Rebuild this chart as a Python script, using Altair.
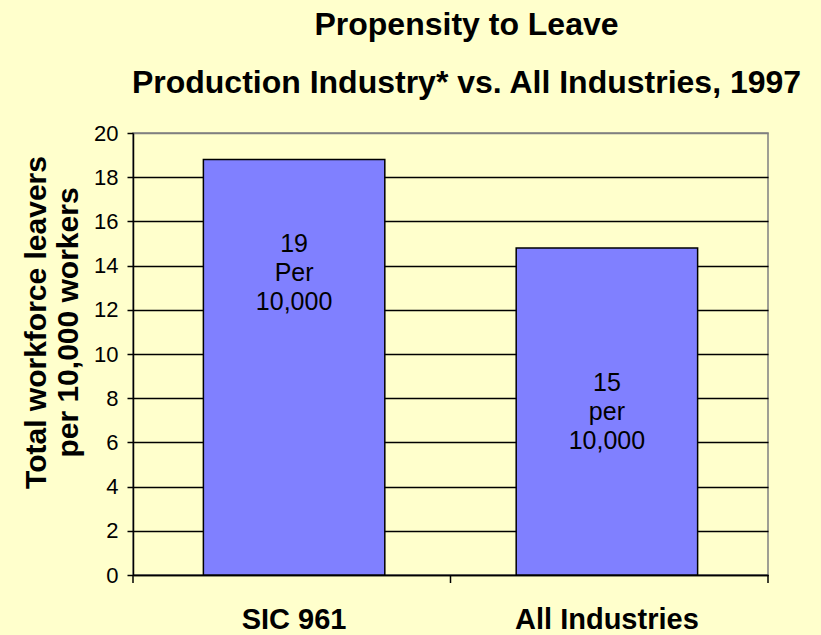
import altair as alt
import pandas as pd

categories = ["SIC 961", "All Industries"]
values = [18.8, 14.8]
bar_labels = [["19", "Per", "10,000"], ["15", "per", "10,000"]]
label_pos = [15.0, 8.7]

df = pd.DataFrame({"cat": categories, "val": values, "lab": bar_labels, "lpos": label_pos})

W, H = 635, 442
BG = "#FFFFCC"
FONT = "Liberation Sans"
YTITLE = ["Total workforce leavers", "per 10,000 workers"]

xscale = alt.Scale(domain=categories, paddingInner=0.42, paddingOuter=0.225)
yscale = alt.Scale(domain=[0, 20])


def xaxis():
    return alt.Axis(title=None, labelAngle=0, ticks=False, domain=True, domainColor="black",
                    domainWidth=1.5, labelFont=FONT, labelFontSize=29, labelLimit=400,
                    labelFontWeight="bold", labelColor="black", labelPadding=30)


def yaxis():
    return alt.Axis(title=YTITLE, values=list(range(0, 21, 2)), grid=True,
                    gridColor=alt.expr("datum.value == 20 ? '#808080' : 'black'"),
                    gridWidth=1.5, domainColor="black", domainWidth=1.5,
                    tickColor="black", tickSize=6, tickWidth=1.5,
                    labelFont=FONT, labelFontSize=22, labelColor="black",
                    labelPadding=9, titleFont=FONT, titleFontSize=30,
                    titleFontWeight="bold", titleColor="black", titleLineHeight=32,
                    titlePadding=10, titleY=189, titleAnchor="middle")


bars = alt.Chart(df).mark_bar(color="#8080FF", stroke="black", strokeWidth=1.5).encode(
    x=alt.X("cat:N", scale=xscale, sort=categories, axis=xaxis()),
    y=alt.Y("val:Q", scale=yscale, axis=yaxis()),
)

text = alt.Chart(df).mark_text(font=FONT, fontSize=25, color="black",
                               lineHeight=29, baseline="middle", align="center").encode(
    x=alt.X("cat:N", scale=xscale, sort=categories, axis=xaxis()),
    y=alt.Y("lpos:Q", scale=yscale, axis=yaxis()),
    text="lab",
)

tick_df = pd.DataFrame({"k": [0, 1, 2]})
ticks = alt.Chart(tick_df).mark_rule(color="black", strokeWidth=1.5).encode(
    x=alt.X("k:Q", scale=alt.Scale(domain=[0, 2]), axis=None),
    y=alt.value(H), y2=alt.value(H + 8),
)

chart = alt.layer(alt.layer(bars, text), ticks).resolve_scale(x="independent").properties(
    width=W, height=H, background=BG,
    autosize=alt.AutoSizeParams(type="none"),
    padding={"left": 133, "top": 133, "right": 53, "bottom": 60},
    title=alt.TitleParams(text=["Propensity to Leave", "Production Industry* vs. All Industries, 1997"],
                          font=FONT, fontSize=32, fontWeight="bold", color="black",
                          lineHeight=58, anchor="middle", baseline="bottom", offset=0,
                          dx=16, dy=10),
).configure_view(stroke="#808080", strokeWidth=1.5)

chart.save("out.html", embed_options={"renderer": "svg", "actions": False})
